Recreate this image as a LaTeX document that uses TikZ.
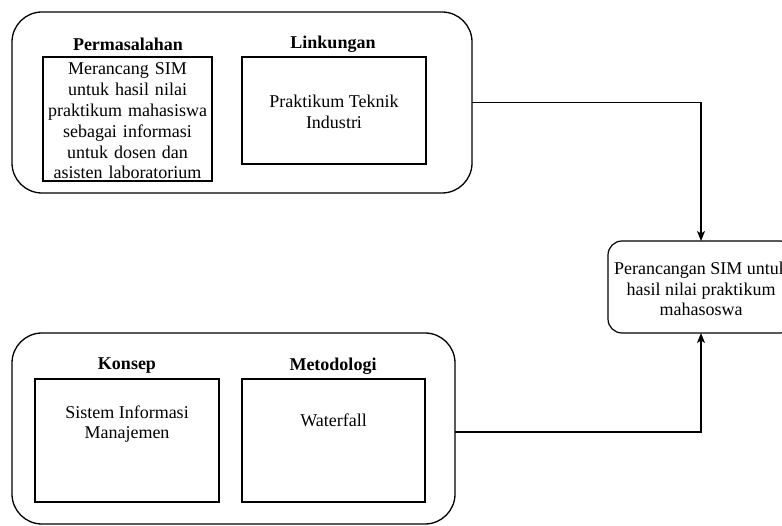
\documentclass[tikz,border=0pt]{standalone}
\usepackage{fontspec}
\setmainfont{Liberation Serif}
\usetikzlibrary{arrows.meta}
\begin{document}
\begin{tikzpicture}[x=1pt,y=-1pt,
  every node/.style={inner sep=0pt,outer sep=0pt,align=center,font=\fontsize{18}{20.8}\selectfont},
  group/.style={draw,line width=1.3pt,rounded corners=30pt},
  itembox/.style={draw,line width=1.3pt},
  heading/.style={font=\fontsize{18}{20}\selectfont\bfseries},
  result/.style={draw,line width=1.2pt,rounded corners=14pt},
  link/.style={line width=1.2pt,-{Stealth[length=10pt,width=8pt,inset=2.5pt]}}]
\useasboundingbox (0,0) rectangle (782,526);

% upper group: problem and environment
\node[group,minimum width=460pt,minimum height=181pt] (topgrp) at (242,102.5) {};
\node[heading] (permtitle) at (128,44) {Permasalahan};
\node[itembox,minimum width=169pt,minimum height=124pt] (permbox) at (127.5,119) {};
\node[text width=175pt] (permtext) at (127.5,121) {Merancang SIM\\untuk hasil nilai\\praktikum mahasiswa\\sebagai informasi\\untuk dosen dan\\asisten laboratorium};
\node[heading] (linktitle) at (333,44) {Linkungan};
\node[itembox,minimum width=184pt,minimum height=107pt] (linkbox) at (334,110.5) {};
\node (linktext) at (334,112) {Praktikum Teknik\\Industri};

% lower group: concept and methodology
\node[group,minimum width=443pt,minimum height=191pt] (botgrp) at (233.5,428.5) {};
\node[heading] (konseptitle) at (127,366) {Konsep};
\node[itembox,minimum width=184pt,minimum height=123pt] (konsepbox) at (127,440.5) {};
\node (konseptext) at (127,424) {Sistem Informasi\\Manajemen};
\node[heading] (metodtitle) at (333,366) {Metodologi};
\node[itembox,minimum width=183pt,minimum height=123pt] (metodbox) at (333.5,440.5) {};
\node (metodtext) at (333.5,420) {Waterfall};

% outcome
\node[result,minimum width=186pt,minimum height=92pt] (result) at (701,287) {};
\node (resulttext) at (701,289) {Perancangan SIM untuk\\hasil nilai praktikum\\mahasoswa};

% connectors
\draw[link] (topgrp.east) -| (result.north);
\draw[link] ([yshift=-3.5pt]botgrp.east) -| (result.south);
\end{tikzpicture}
\end{document}
